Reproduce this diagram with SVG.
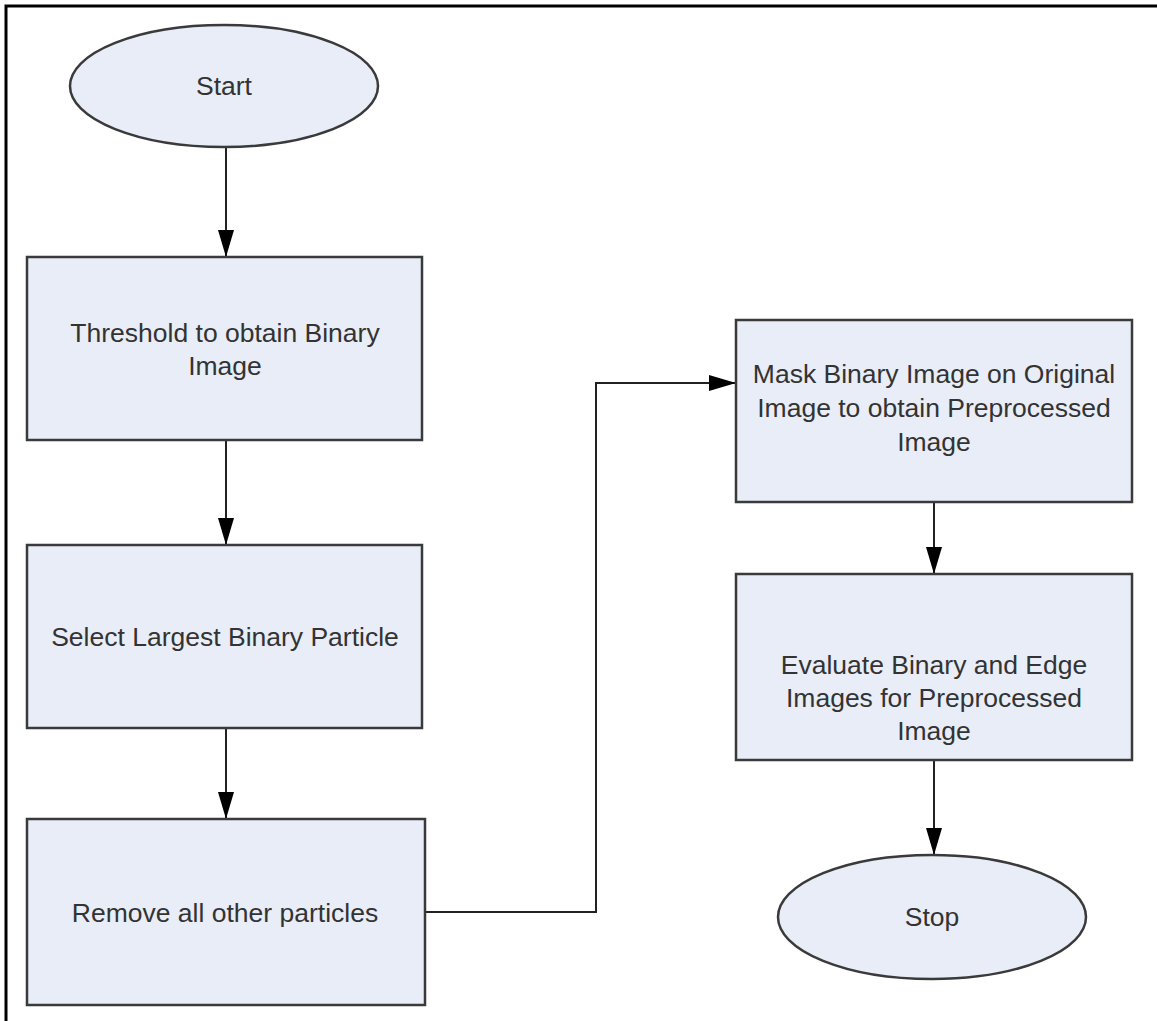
<svg xmlns="http://www.w3.org/2000/svg" width="1157" height="1021" viewBox="0 0 1157 1021">
<defs>
<style>
.node{fill:#e8edf7;stroke:#3a3a3a;stroke-width:2.5}
.lbl{font-family:"Liberation Sans",Arial,Helvetica,sans-serif;font-size:26.5px;fill:#333;text-anchor:middle}
.conn{fill:none;stroke:#222;stroke-width:2}
</style>
<marker id="arr" markerUnits="userSpaceOnUse" markerWidth="27" markerHeight="16" refX="27" refY="8" viewBox="0 0 27 16" orient="auto">
<path d="M0,0 L27,8 L0,16 Z" fill="#000"/>
</marker>
</defs>
<rect width="1157" height="1021" fill="#fff"/>
<path d="M6,1021 V6 H1157" fill="none" stroke="#000" stroke-width="3"/>
<g id="connectors">
<line class="conn" x1="226" y1="147" x2="226" y2="257" marker-end="url(#arr)"/>
<line class="conn" x1="226" y1="440" x2="226" y2="545" marker-end="url(#arr)"/>
<line class="conn" x1="226" y1="728" x2="226" y2="819" marker-end="url(#arr)"/>
<polyline class="conn" points="425,912 596,912 596,383 736,383" marker-end="url(#arr)"/>
<line class="conn" x1="934" y1="502" x2="934" y2="574" marker-end="url(#arr)"/>
<line class="conn" x1="934" y1="760" x2="934" y2="855" marker-end="url(#arr)"/>
</g>
<g id="start">
<ellipse class="node" cx="224" cy="86" rx="154" ry="61"/>
<text class="lbl" x="224" y="95">Start</text>
</g>
<g id="threshold">
<rect class="node" x="27" y="257" width="395" height="183"/>
<text class="lbl" x="225" y="342">Threshold to obtain Binary</text>
<text class="lbl" x="225" y="375">Image</text>
</g>
<g id="select">
<rect class="node" x="27" y="545" width="395" height="183"/>
<text class="lbl" x="225" y="646">Select Largest Binary Particle</text>
</g>
<g id="remove">
<rect class="node" x="27" y="819" width="398" height="186"/>
<text class="lbl" x="225" y="922">Remove all other particles</text>
</g>
<g id="mask">
<rect class="node" x="736" y="320" width="396" height="182"/>
<text class="lbl" x="934" y="383">Mask Binary Image on Original</text>
<text class="lbl" x="934" y="417">Image to obtain Preprocessed</text>
<text class="lbl" x="934" y="451">Image</text>
</g>
<g id="evaluate">
<rect class="node" x="736" y="574" width="396" height="186"/>
<text class="lbl" x="934" y="674">Evaluate Binary and Edge</text>
<text class="lbl" x="934" y="707">Images for Preprocessed</text>
<text class="lbl" x="934" y="740">Image</text>
</g>
<g id="stop">
<ellipse class="node" cx="932" cy="917" rx="154" ry="62"/>
<text class="lbl" x="932" y="926">Stop</text>
</g>
</svg>
